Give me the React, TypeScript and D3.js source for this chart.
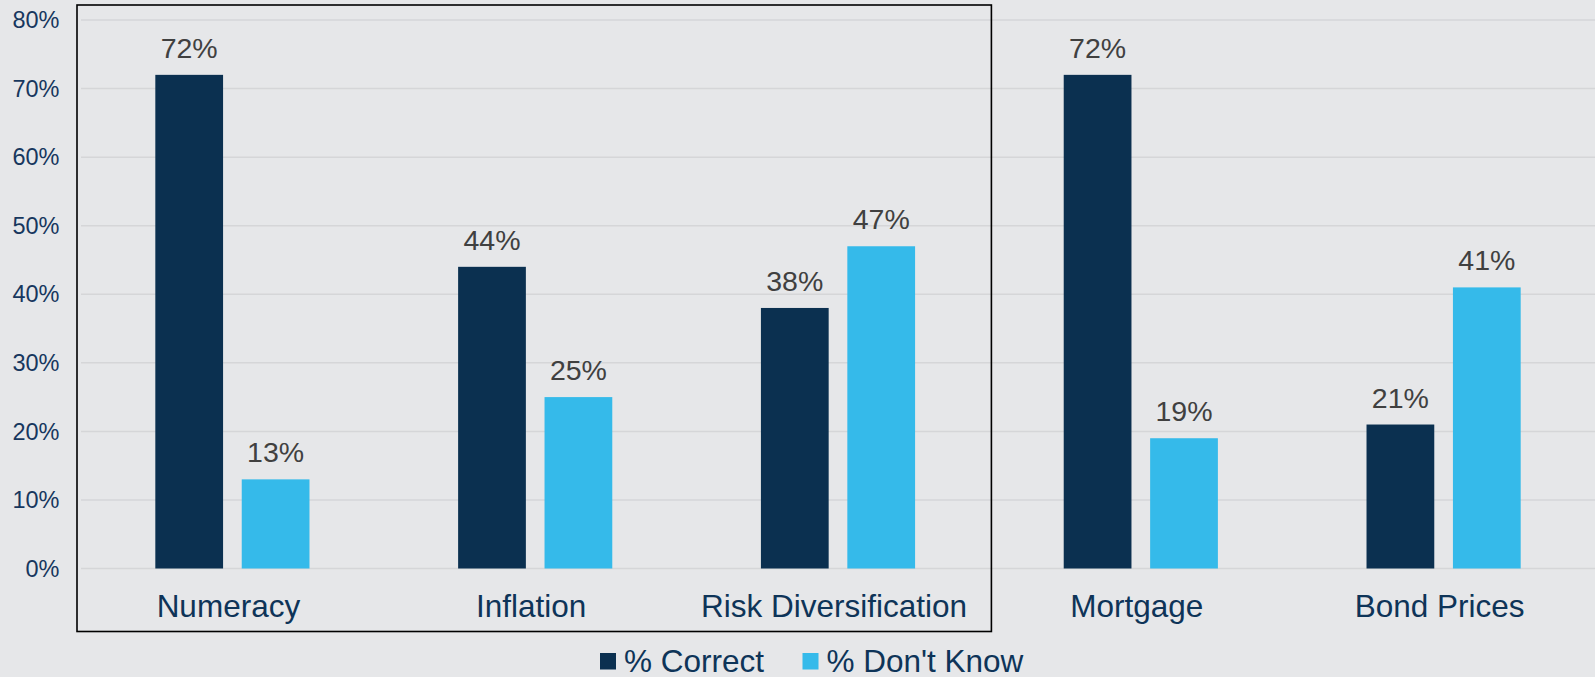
import React, { useEffect, useRef } from 'react';
import * as d3 from 'd3';

const categories = ['Numeracy', 'Inflation', 'Risk Diversification', 'Mortgage', 'Bond Prices'];
const seriesNames = ['% Correct', "% Don't Know"];
const correctValues = [72, 44, 38, 72, 21];
const dontKnowValues = [13, 25, 47, 19, 41];
const yTicks = [0, 10, 20, 30, 40, 50, 60, 70, 80];
const boxedCategories = ['Numeracy', 'Inflation', 'Risk Diversification'];

const colors = ['#0b3050', '#35baea'];
const FONT = '"Liberation Sans", Arial, sans-serif';

export default function App() {
    const svgRef = useRef<SVGSVGElement>(null);

    useEffect(() => {
        if (!svgRef.current) return;
        const svg = d3.select(svgRef.current);
        svg.selectAll('*').remove();

        const width = 1595;
        const height = 677;
        const margin = { top: 20, right: 0, bottom: 108.5, left: 81 };

        svg.append('rect')
            .attr('width', width)
            .attr('height', height)
            .attr('fill', '#e6e7e9');

        const x0 = d3.scaleBand<string>()
            .domain(categories)
            .range([margin.left, width - margin.right])
            .padding(0);

        const x1 = d3.scaleBand<string>()
            .domain(seriesNames)
            .range([0, x0.bandwidth()])
            .paddingInner(0.216)
            .paddingOuter(0.86);

        const y = d3.scaleLinear()
            .domain([0, 80])
            .range([height - margin.bottom, margin.top]);

        // gridlines
        svg.append('g')
            .selectAll('line')
            .data(yTicks)
            .join('line')
            .attr('x1', margin.left)
            .attr('x2', width - margin.right)
            .attr('y1', d => y(d))
            .attr('y2', d => y(d))
            .attr('stroke', '#d5d6d8')
            .attr('stroke-width', 1.5);

        // y tick labels
        svg.append('g')
            .selectAll('text')
            .data(yTicks)
            .join('text')
            .attr('x', 59.5)
            .attr('y', d => y(d))
            .attr('dy', '0.35em')
            .attr('text-anchor', 'end')
            .attr('fill', '#17375e')
            .style('font-family', FONT)
            .style('font-size', '23.5px')
            .text(d => `${d}%`);

        const rows = categories.map((c, i) => ({
            category: c,
            values: [
                { key: seriesNames[0], value: correctValues[i], color: colors[0] },
                { key: seriesNames[1], value: dontKnowValues[i], color: colors[1] },
            ],
        }));

        const groups = svg.append('g')
            .selectAll('g')
            .data(rows)
            .join('g')
            .attr('transform', d => `translate(${x0(d.category)},0)`);

        groups.selectAll('rect')
            .data(d => d.values)
            .join('rect')
            .attr('x', d => x1(d.key)!)
            .attr('y', d => y(d.value))
            .attr('width', x1.bandwidth())
            .attr('height', d => y(0) - y(d.value))
            .attr('fill', d => d.color);

        groups.selectAll('text.val')
            .data(d => d.values)
            .join('text')
            .attr('class', 'val')
            .attr('x', d => x1(d.key)! + x1.bandwidth() / 2)
            .attr('y', d => y(d.value) - 17)
            .attr('text-anchor', 'middle')
            .attr('fill', '#404040')
            .style('font-family', FONT)
            .style('font-size', '28.5px')
            .text(d => `${d.value}%`);

        // category labels
        svg.append('g')
            .selectAll('text')
            .data(categories)
            .join('text')
            .attr('x', d => x0(d)! + x0.bandwidth() / 2 - 4)
            .attr('y', 616.5)
            .attr('text-anchor', 'middle')
            .attr('fill', '#0e3458')
            .style('font-family', FONT)
            .style('font-size', '31.5px')
            .text(d => d);

        // box around first three categories
        const boxLeft = x0(boxedCategories[0])! - 4;
        const boxRight = x0(boxedCategories[boxedCategories.length - 1])! + x0.bandwidth() + 2;
        svg.append('rect')
            .attr('x', boxLeft)
            .attr('y', 5)
            .attr('width', boxRight - boxLeft)
            .attr('height', 626.5)
            .attr('fill', 'none')
            .attr('stroke', '#000')
            .attr('stroke-width', 1.6);

        // legend
        const legendItems = [
            { name: seriesNames[0], color: colors[0], x: 600 },
            { name: seriesNames[1], color: colors[1], x: 802.5 },
        ];
        const legend = svg.append('g')
            .selectAll('g')
            .data(legendItems)
            .join('g')
            .attr('transform', d => `translate(${d.x},0)`);
        legend.append('rect')
            .attr('y', 653)
            .attr('width', 16)
            .attr('height', 16.5)
            .attr('fill', d => d.color);
        legend.append('text')
            .attr('x', 24)
            .attr('y', 671.5)
            .attr('fill', '#0e3458')
            .style('font-family', FONT)
            .style('font-size', '31.5px')
            .text(d => d.name);
    }, []);

    return (
        <svg
            ref={svgRef}
            width={1595}
            height={677}
            viewBox="0 0 1595 677"
            style={{ position: 'absolute', left: 0, top: 0, display: 'block' }}
        />
    );
}
